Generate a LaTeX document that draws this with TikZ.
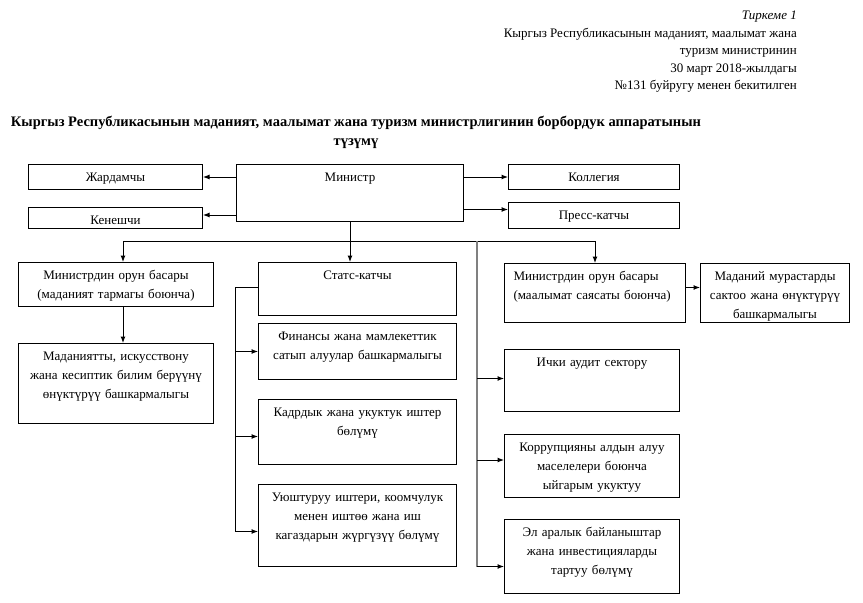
\documentclass[tikz,border=0pt]{standalone}
\usepackage{fontspec}
\setmainfont{Liberation Serif}
\usetikzlibrary{positioning,arrows.meta}

\tikzset{
  box/.style 2 args={draw, line width=1pt, inner xsep=0pt, inner ysep=0pt,
    text width=#1pt, align=center, text height=17pt,
    text depth=\the\dimexpr#2pt-17pt\relax,
    font=\fontsize{13}{19}\selectfont},
  arr/.style={-{Latex[length=6.5pt,width=5pt]}, line width=1pt}
}

\begin{document}
\begin{tikzpicture}[x=1pt, y=-1pt]
\useasboundingbox (0,0) rectangle (863,603);
% header and title
\node (T) [anchor=north east, align=right, inner sep=0pt,
  font=\fontsize{13}{17.5}\selectfont] at (797,11)
  {\textit{Тиркеме 1}\\Кыргыз Республикасынын маданият, маалымат жана\\туризм министринин\\30 март 2018-жылдагы\\№131 буйругу менен бекитилген};
\node (N) [anchor=north, align=center, inner sep=0pt,
  font=\bfseries\fontsize{14.5}{19.5}\selectfont] at (356,115.5)
  {Кыргыз Республикасынын маданият, маалымат жана туризм министрлигинин борбордук аппаратынын\\түзүмү};
% top row
\node (M) [box={227}{57}, anchor=north west] at (236,164) {Министр};
\node (J) [box={174}{25}, anchor=north west] at (28,164) {Жардамчы};
\node (K) [box={174}{21}, below=17pt of J] {Кенешчи};
\node (L) [box={171}{25}, anchor=north west] at (508,164) {Коллегия};
\node (P) [box={171}{26}, below=12pt of L] {Пресс-катчы};
% left column
\node (D1) [box={195}{44}, anchor=north west] at (18,262) {Министрдин орун басары\\(маданият тармагы боюнча)};
\node (C) [box={195}{80}, below=36pt of D1] {Маданиятты, искусствону\\жана кесиптик билим берүүнү\\өнүктүрүү башкармалыгы};
% middle column
\node (S) [box={198}{53}, anchor=north west] at (258,262) {Статс-катчы};
\node (F) [box={198}{56}, below=7pt of S] {Финансы жана мамлекеттик\\сатып алуулар башкармалыгы};
\node (R) [box={198}{65}, below=19pt of F] {Кадрдык жана укуктук иштер\\бөлүмү};
\node (U) [box={198}{82}, below=19pt of R] {Уюштуруу иштери, коомчулук\\менен иштөө жана иш\\кагаздарын жүргүзүү бөлүмү};
% right column
\node (D2) [box={163}{59}, inner xsep=9pt, align=left, anchor=north west] at (504,263) {Министрдин орун басары\\(маалымат саясаты боюнча)};
\node (H) [box={149}{59}, right=14pt of D2] {Маданий мурастарды\\сактоо жана өнүктүрүү\\башкармалыгы};
\node (A) [box={175}{62}, anchor=north west] at (504,349) {Ички аудит сектору};
\node (Q) [box={175}{63}, below=22pt of A] {Коррупцияны алдын алуу\\маселелери боюнча\\ыйгарым укуктуу};
\node (E) [box={175}{74}, below=21pt of Q] {Эл аралык байланыштар\\жана инвестицияларды\\тартуу бөлүмү};
% connectors
\coordinate (b) at (0,241);
\coordinate (v) at (477,241);
\coordinate (s) at (235,287);
\draw[arr] (M.west |- J.east) -- (J.east);
\draw[arr] ([yshift=3pt]K.east -| M.west) -- ([yshift=3pt]K.east);
\draw[arr] (M.east |- L.west) -- (L.west);
\draw[arr] ([yshift=6pt]P.west -| M.east) -- ([yshift=6pt]P.west);
\draw[line width=1pt] (M.south) -- (M.south |- b);
\draw[arr] (M.south |- b) -| ([xshift=7pt]D1.north);
\draw[arr] (M.south |- b) -| (D2.north);
\draw[arr] (M.south |- b) -- (M.south |- S.north);
\draw[arr] ([xshift=7pt]D1.south) -- ([xshift=7pt]C.north);
\draw[arr] ([yshift=5.5pt]D2.east) -- ([yshift=5.5pt]H.west);
\draw[line width=1pt] (S.west |- s) -- (s) -- ([yshift=-6pt]U.west -| s);
\draw[arr] (F.west -| s) -- (F.west);
\draw[arr] ([yshift=-4.5pt]R.west -| s) -- ([yshift=-4.5pt]R.west);
\draw[arr] ([yshift=-6pt]U.west -| s) -- ([yshift=-6pt]U.west);
\draw[gray, line width=1.2pt] (v) -- ([yshift=-10pt]E.west -| v);
\draw[arr] ([yshift=2pt]A.west -| v) -- ([yshift=2pt]A.west);
\draw[arr] ([yshift=6pt]Q.west -| v) -- ([yshift=6pt]Q.west);
\draw[arr] ([yshift=-10pt]E.west -| v) -- ([yshift=-10pt]E.west);
\end{tikzpicture}
\end{document}
